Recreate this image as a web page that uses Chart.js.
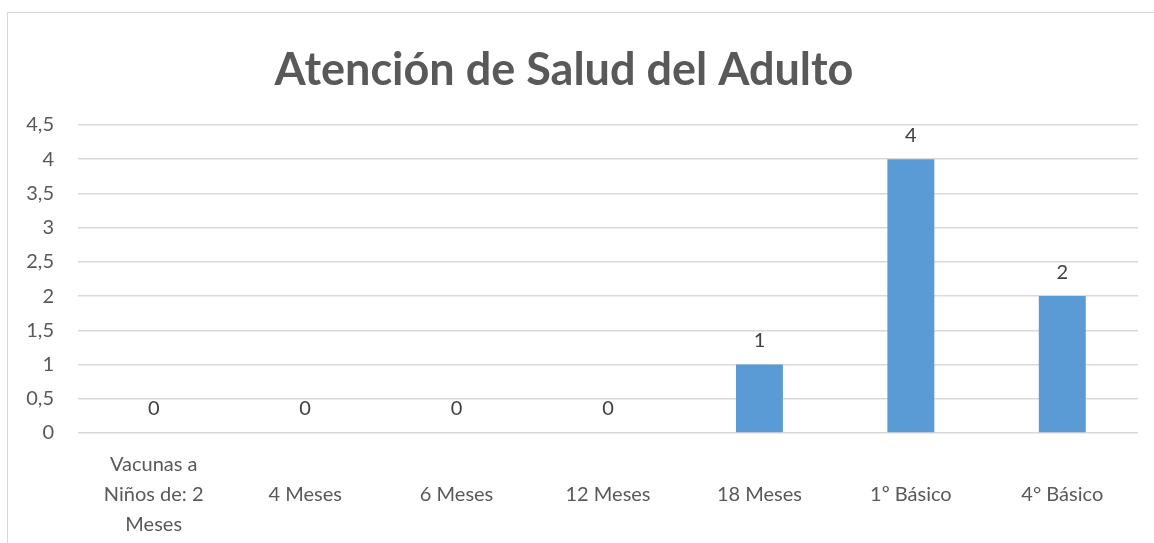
<!DOCTYPE html>
<html>
<head>
<meta charset="utf-8">
<script src="https://cdn.jsdelivr.net/npm/chart.js@4"></script>
<style>
  html, body { margin: 0; padding: 0; background: #fff; overflow: hidden; }
  body { width: 1154px; height: 543px; position: relative; }
  #frame { position: absolute; left: 7px; top: 12px; width: 1200px; height: 600px; border-left: 1.5px solid #d9d9d9; border-top: 1.5px solid #d9d9d9; }
  #wrap { position: absolute; left: -10px; top: 0; width: 1148px; height: 543px; }
</style>
</head>
<body>
<div id="frame"></div>
<div id="wrap"><canvas id="chart"></canvas></div>
<script>
// Chart data
const categories = [
    ['Vacunas a', 'Niños de: 2', 'Meses'],
    ['', '4 Meses', ''],
    ['', '6 Meses', ''],
    ['', '12 Meses', ''],
    ['', '18 Meses', ''],
    ['', '1º Básico', ''],
    ['', '4° Básico', '']
];
const values = [0, 0, 0, 0, 1, 4, 2];
const yTicks = [0, 0.5, 1, 1.5, 2, 2.5, 3, 3.5, 4, 4.5];

const fontFamily = 'Lato, "Open Sans", sans-serif';

// Draws the value above each bar
const valueLabels = {
    id: 'valueLabels',
    afterDatasetsDraw(chart) {
        const ctx = chart.ctx;
        const meta = chart.getDatasetMeta(0);
        ctx.save();
        ctx.font = '20px ' + fontFamily;
        ctx.fillStyle = '#404040';
        ctx.textAlign = 'center';
        ctx.textBaseline = 'middle';
        meta.data.forEach((bar, i) => {
            ctx.fillText(String(values[i]).replace('.', ','), bar.x, bar.y - 24);
        });
        ctx.restore();
    }
};

new Chart(document.getElementById('chart'), {
    type: 'bar',
    data: {
        labels: categories,
        datasets: [{
            data: values,
            backgroundColor: '#5b9bd5',
            borderWidth: 0,
            barPercentage: 0.62,
            categoryPercentage: 0.5
        }]
    },
    options: {
        responsive: true,
        maintainAspectRatio: false,
        animation: false,
        layout: { padding: { left: 0, right: 0, top: 0, bottom: 0 } },
        plugins: {
            legend: { display: false },
            tooltip: { enabled: false },
            title: {
                display: true,
                text: 'Atención de Salud del Adulto',
                color: '#595959',
                font: { family: fontFamily, size: 45, weight: 'bold', lineHeight: 1.2 },
                padding: { top: 43, bottom: 28 }
            }
        },
        scales: {
            x: {
                grid: { display: false },
                border: { display: false },
                ticks: {
                    color: '#595959',
                    font: { family: fontFamily, size: 20, lineHeight: 1.5 },
                    padding: 9,
                    maxRotation: 0,
                    autoSkip: false
                },
                afterFit(scale) { scale.height = 110; }
            },
            y: {
                min: 0,
                max: 4.5,
                afterBuildTicks(scale) { scale.ticks = yTicks.map(v => ({ value: v })); },
                grid: { color: '#d9d9d9', lineWidth: 1.5, drawTicks: false },
                border: { display: false },
                ticks: {
                    color: '#595959',
                    font: { family: fontFamily, size: 20 },
                    padding: 24,
                    callback: v => String(v).replace('.', ',')
                },
                afterFit(scale) { scale.width = 88; }
            }
        }
    },
    plugins: [valueLabels]
});
</script>
</body>
</html>
